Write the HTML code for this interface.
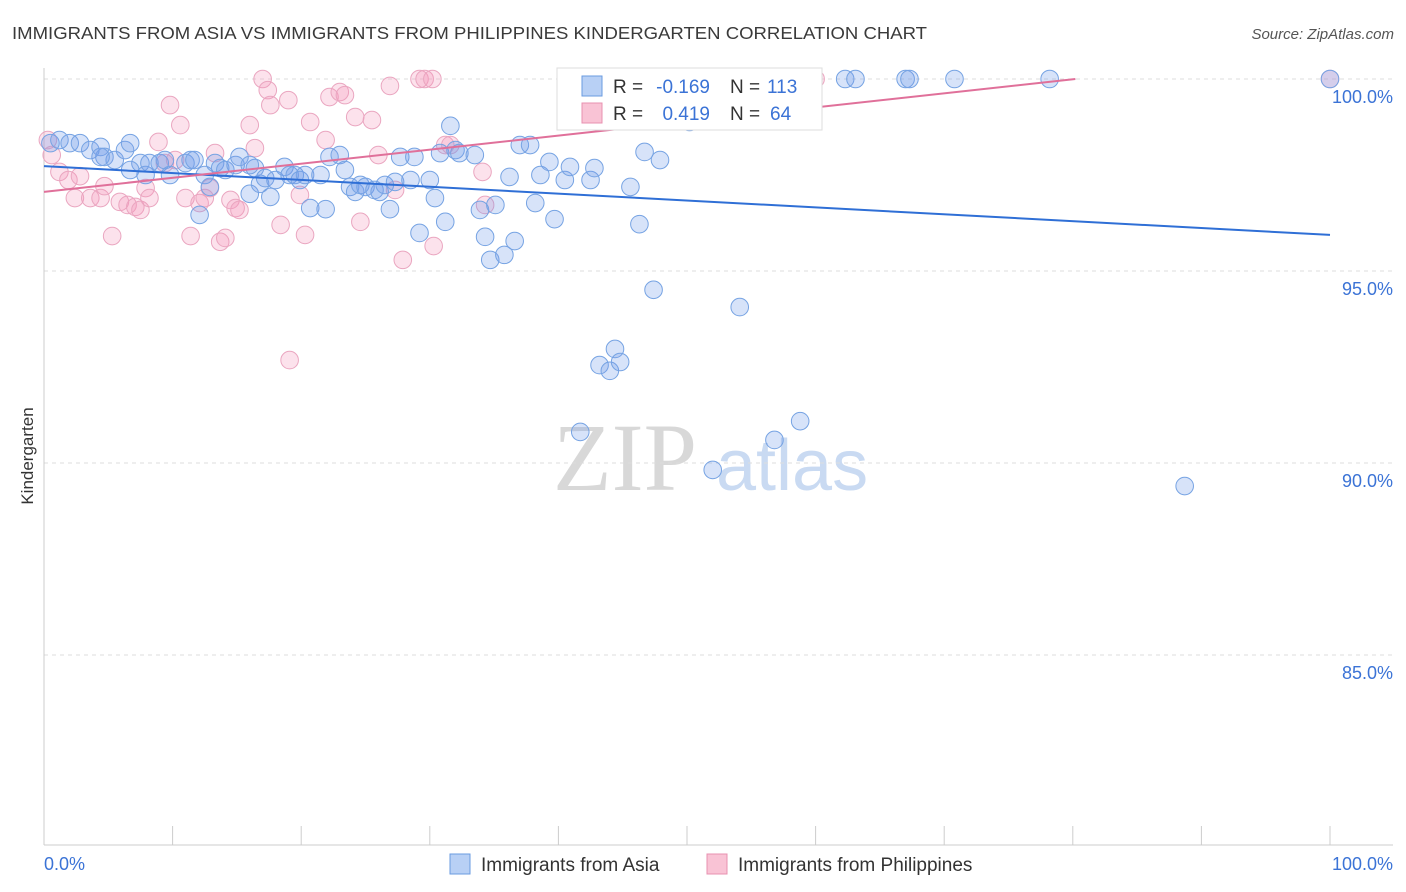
<!DOCTYPE html>
<html><head><meta charset="utf-8"><style>
body{margin:0;background:#fff;font-family:"Liberation Sans",sans-serif;}
svg{display:block}
</style></head><body>
<svg id="chart" width="1406" height="892" xmlns="http://www.w3.org/2000/svg" font-family="Liberation Sans, sans-serif">
<text x="12" y="39" font-size="17.5" fill="#3a3a3a" textLength="915" lengthAdjust="spacingAndGlyphs">IMMIGRANTS FROM ASIA VS IMMIGRANTS FROM PHILIPPINES KINDERGARTEN CORRELATION CHART</text>
<text x="1394" y="39" font-size="15" fill="#555" text-anchor="end" font-style="italic">Source: ZipAtlas.com</text>
<g>
<text x="553" y="490" font-size="96" fill="#d8d8d8" font-family="Liberation Serif, serif">ZIP</text>
<text x="716" y="490" font-size="72" fill="#c9daf2">atlas</text>
</g>
<g id="grid"></g>
<g id="axes"></g>
<g id="marks"></g>
<text transform="translate(33,456) rotate(-90)" font-size="17" fill="#333" text-anchor="middle">Kindergarten</text>
<g font-size="19">
<rect x="557" y="68" width="265" height="62" fill="#fff" stroke="#ddd"/>
<rect x="582" y="76" width="20" height="20" fill="#b8d0f5" stroke="#6a9be0"/>
<rect x="582" y="103" width="20" height="20" fill="#f9c3d5" stroke="#e890b0"/>
<text x="613" y="93" fill="#333">R =</text>
<text x="710" y="93" fill="#3b73d6" text-anchor="end">-0.169</text>
<text x="730" y="93" fill="#333">N =</text>
<text x="767" y="93" fill="#3b73d6">113</text>
<text x="613" y="120" fill="#333">R =</text>
<text x="710" y="120" fill="#3b73d6" text-anchor="end">0.419</text>
<text x="730" y="120" fill="#333">N =</text>
<text x="770" y="120" fill="#3b73d6">64</text>
</g>
<g>
<rect x="450" y="854" width="20" height="20" fill="#b8d0f5" stroke="#6a9be0"/>
<text x="481" y="871" font-size="19" fill="#333">Immigrants from Asia</text>
<rect x="707" y="854" width="20" height="20" fill="#f9c3d5" stroke="#e890b0"/>
<text x="738" y="871" font-size="19" fill="#333">Immigrants from Philippines</text>
</g>
</svg>
<script>
const yTicks=[100,95,90,85];
const yTickLabels=["100.0%","95.0%","90.0%","85.0%"];
const xTicks=[0,10,20,30,40,50,60,70,80,90,100];
const xLabels=["0.0%","100.0%"];
const asiaX=[0.5,1.2,2.0,2.8,3.6,4.4,4.7,5.5,6.3,6.7,7.5,7.9,8.2,9.0,9.4,9.8,11.0,11.4,11.7,12.5,12.9,13.3,13.7,14.1,14.9,15.2,16.0,16.4,16.8,17.2,17.6,18.0,18.7,19.1,19.5,19.9,20.3,20.7,21.5,21.9,22.2,23.0,23.4,23.8,24.2,24.6,25.0,25.7,26.1,26.5,26.9,27.3,27.7,28.5,28.8,29.2,30.0,30.4,30.8,31.2,31.6,32.0,32.3,33.5,33.9,34.3,34.7,35.1,35.8,36.2,36.6,37.0,37.8,38.2,38.6,39.3,39.7,40.5,40.9,42.5,42.8,44.4,43.2,44.0,44.8,45.6,46.3,46.7,47.4,47.9,48.7,50.2,52.2,53.0,53.3,54.1,56.8,58.8,62.3,63.1,67.0,67.3,70.8,78.2,88.7,100,41.7,52.0,4.4,6.7,12.1,16.0];
const asiaY=[98.33,98.41,98.33,98.33,98.15,98.23,97.97,97.89,98.15,98.33,97.81,97.5,97.81,97.81,97.89,97.5,97.81,97.89,97.89,97.5,97.19,97.81,97.68,97.63,97.76,97.97,97.01,97.68,97.27,97.42,96.93,97.37,97.71,97.5,97.5,97.37,97.5,96.64,97.5,96.61,97.97,98.02,97.63,97.19,97.06,97.24,97.19,97.11,97.06,97.24,96.61,97.32,97.97,97.37,97.97,95.99,97.37,96.9,98.07,96.28,98.78,98.15,98.07,98.02,96.59,95.89,95.29,96.72,95.42,97.45,95.78,98.28,98.28,96.77,97.5,97.84,96.35,97.37,97.71,97.37,97.68,92.97,92.55,92.4,92.63,97.19,96.22,98.1,94.51,97.89,100,98.88,99.51,100,100,94.06,90.6,91.09,100,100,100,100,100,100,89.4,100,90.81,89.82,97.97,97.63,96.46,97.76];
const philX=[0.3,0.6,1.2,1.9,2.4,2.8,3.6,4.4,4.7,5.3,5.9,6.5,7.1,7.5,7.9,8.2,8.9,9.4,9.8,10.2,10.6,11.0,11.4,12.1,12.5,12.9,13.3,13.7,14.1,14.5,14.9,15.2,16.0,16.4,17.0,17.4,17.6,18.4,19.0,19.1,19.9,20.3,20.7,21.9,22.2,23.0,23.4,24.2,24.6,25.5,26.0,26.9,27.3,27.9,29.2,29.6,30.2,30.3,31.2,31.6,34.1,34.3,60.0,100];
const philY=[98.41,98.02,97.58,97.37,96.9,97.47,96.9,96.9,97.21,95.91,96.8,96.72,96.67,96.59,97.16,96.9,98.36,97.81,99.32,97.89,98.8,96.9,95.91,96.77,96.9,97.16,98.07,95.76,95.86,96.85,96.64,96.59,98.8,98.2,100,99.71,99.32,96.2,99.45,92.68,96.98,95.94,98.88,98.41,99.53,99.66,99.58,99.01,96.28,98.93,98.02,99.82,97.11,95.29,100,100,100,95.65,98.28,98.28,97.58,96.72,100,100];
const asiaTrendX=[0,100], asiaTrendY=[97.73,95.94];
const philTrendX=[0,80.2], philTrendY=[97.06,100];

const NS="http://www.w3.org/2000/svg";
const sx=v=>44+v*12.86;
const sy=v=>79+(100-v)*38.4;
function mk(tag,attrs,parent){const e=document.createElementNS(NS,tag);for(const k in attrs)e.setAttribute(k,attrs[k]);parent.appendChild(e);return e;}
const grid=document.getElementById('grid'),axes=document.getElementById('axes'),marks=document.getElementById('marks');
yTicks.forEach((t,i)=>{
  const l=mk('line',{x1:44,x2:1393,y1:sy(t),y2:sy(t),stroke:'#ddd','stroke-dasharray':'4,4'},grid);
  
  
  const tx=mk('text',{x:1393,y:sy(t)+24,'font-size':18,fill:'#3b73d6','text-anchor':'end'},axes);
  tx.textContent=yTickLabels[i];
  
  
});
const ya=mk('line',{x1:44,x2:44,y1:68,y2:845,stroke:'#ccc'},axes);


const xa=mk('line',{x1:44,x2:1393,y1:845,y2:845,stroke:'#ccc'},axes);


xTicks.forEach(t=>{
  const l=mk('line',{x1:sx(t),x2:sx(t),y1:826,y2:845,stroke:'#ccc'},axes);
  
  
});
const xl0=mk('text',{x:44,y:870,'font-size':18,fill:'#3b73d6'},axes);xl0.textContent=xLabels[0];


const xl1=mk('text',{x:1393,y:870,'font-size':18,fill:'#3b73d6','text-anchor':'end'},axes);xl1.textContent=xLabels[1];


function pts(X,Y,fill,stroke,name){
  X.forEach((x,i)=>{const c=mk('circle',{cx:sx(x),cy:sy(Y[i]),r:8.8,fill:fill,stroke:stroke,'stroke-width':1},marks);
  
  });
}
pts(philX,philY,'rgba(244,150,185,0.28)','#eaa6c0','point-philippines');
pts(asiaX,asiaY,'rgba(110,155,235,0.28)','#76a3e3','point-asia');
const t1=mk('line',{x1:sx(asiaTrendX[0]),y1:sy(asiaTrendY[0]),x2:sx(asiaTrendX[1]),y2:sy(asiaTrendY[1]),stroke:'#2f6fd6','stroke-width':2},marks);


const t2=mk('line',{x1:sx(philTrendX[0]),y1:sy(philTrendY[0]),x2:sx(philTrendX[1]),y2:sy(philTrendY[1]),stroke:'#e0709a','stroke-width':2},marks);


</script>
</body></html>
